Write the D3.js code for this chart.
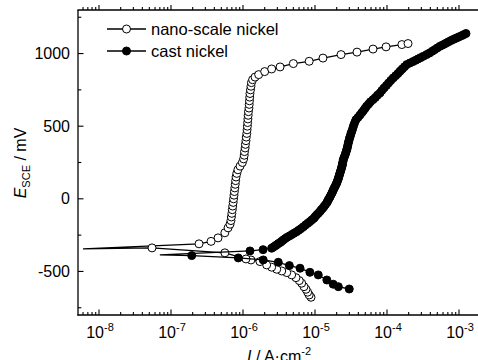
<!DOCTYPE html>
<html><head><meta charset="utf-8">
<script src="https://cdn.jsdelivr.net/npm/d3@7"></script>
<style>body{margin:0;background:#fff} text{font-family:Arial,"Liberation Sans",sans-serif;fill:#000}</style>
</head><body><svg id="c" width="478" height="360"></svg>
<script>
// ---------- data ----------
const xTickExps = [-8, -7, -6, -5, -4, -3];
const yTickValues = [-500, 0, 500, 1000];
const yMinorValues = [-750, -250, 250, 750, 1250];
const seriesNames = ["nano-scale nickel", "cast nickel"];

// nano-scale nickel: current density (A/cm2) and potential (mV vs SCE), in scan order
const nanoI = [8.8e-6, 8.3e-6, 7.9e-6, 7.5e-6, 7.03e-6, 6.53e-6, 6.05e-6, 5.44e-6, 4.74e-6, 4.05e-6, 3.45e-6, 2.94e-6, 2.5e-6, 2.13e-6, 1.72e-6, 1.29e-6, 1.1e-6, 5.6e-7, 5.45e-8,
  6.0e-9,
  2.45e-7, 3.6e-7, 4.5e-7, 5.6e-7, 6.2e-7, 6.6e-7, 6.8e-7, 6.9e-7, 7.0e-7, 7.1e-7, 7.2e-7, 7.3e-7, 7.4e-7, 7.5e-7, 7.6e-7, 7.7e-7, 7.8e-7, 7.9e-7, 8.0e-7, 8.2e-7, 8.5e-7, 9.1e-7, 9.8e-7,
  1.02e-6, 1.04e-6, 1.05e-6, 1.07e-6, 1.08e-6, 1.10e-6, 1.11e-6, 1.13e-6, 1.14e-6, 1.15e-6, 1.16e-6, 1.17e-6, 1.18e-6, 1.19e-6, 1.21e-6, 1.22e-6, 1.23e-6, 1.24e-6, 1.25e-6, 1.27e-6, 1.29e-6, 1.31e-6,
  1.36e-6, 1.47e-6, 1.65e-6, 2.0e-6, 2.5e-6, 3.27e-6, 5.0e-6, 8.3e-6, 1.29e-5, 2.3e-5, 3.83e-5, 6.4e-5, 9.7e-5, 1.61e-4, 1.96e-4];
const nanoE = [-678, -662, -643, -623, -605, -581, -563, -543, -524, -508, -497, -485, -471, -455, -432, -421, -414, -372, -338,
  -345,
  -310, -293, -269, -234, -200, -175, -150, -125, -100, -75, -50, -25, 0, 25, 50, 75, 100, 125, 150, 175, 200, 225, 250,
  275, 300, 325, 350, 375, 400, 425, 450, 475, 500, 525, 550, 575, 600, 625, 650, 675, 700, 725, 750, 775, 800,
  820, 838, 855, 876, 894, 908, 931, 947, 969, 993, 1010, 1031, 1046, 1062, 1069];
const nanoBare = [19, 80];   // points drawn by the line only (no symbol)

// cast nickel
const castI = [2.99e-5, 2.11e-5, 1.79e-5, 1.46e-5, 1.11e-5, 8.5e-6, 6.2e-6, 4.4e-6, 3.09e-6, 1.91e-6, 8.6e-7, 1.94e-7,
  7.0e-8,
  1.25e-6, 1.9e-6, 2.5e-6, 2.65e-6, 2.8e-6, 2.95e-6, 3.1e-6, 3.3e-6, 3.45e-6, 3.63e-6, 3.85e-6, 4.1e-6, 4.45e-6, 4.8e-6, 5.15e-6, 5.57e-6,
  5.95e-6, 6.4e-6, 6.9e-6, 7.4e-6, 7.95e-6, 8.5e-6, 9.0e-6, 9.6e-6, 1.0e-5, 1.05e-5, 1.11e-5, 1.17e-5, 1.22e-5, 1.28e-5, 1.34e-5, 1.4e-5,
  1.47e-5, 1.5e-5, 1.53e-5, 1.58e-5, 1.62e-5, 1.67e-5, 1.72e-5, 1.76e-5, 1.8e-5, 1.85e-5, 1.9e-5, 1.95e-5, 2.0e-5, 2.04e-5, 2.08e-5, 2.12e-5,
  2.15e-5, 2.19e-5, 2.22e-5, 2.26e-5, 2.3e-5, 2.33e-5, 2.37e-5, 2.4e-5, 2.42e-5, 2.45e-5, 2.47e-5, 2.53e-5, 2.6e-5, 2.66e-5, 2.72e-5, 2.77e-5,
  2.82e-5, 2.86e-5, 2.9e-5, 2.95e-5, 3.0e-5, 3.06e-5, 3.12e-5, 3.19e-5, 3.27e-5, 3.36e-5, 3.45e-5, 3.57e-5, 3.71e-5, 3.95e-5, 4.2e-5, 4.45e-5,
  4.7e-5, 4.95e-5, 5.2e-5, 5.55e-5, 5.9e-5, 6.4e-5, 6.9e-5, 7.4e-5, 8.0e-5, 8.5e-5, 9.1e-5, 9.8e-5, 1.05e-4, 1.13e-4, 1.22e-4, 1.32e-4,
  1.42e-4, 1.52e-4, 1.63e-4, 1.75e-4, 1.88e-4, 2.08e-4, 2.3e-4, 2.5e-4, 2.7e-4, 2.93e-4, 3.19e-4, 3.55e-4, 3.9e-4, 4.25e-4, 4.6e-4, 5.0e-4,
  5.44e-4, 5.85e-4, 6.3e-4, 6.75e-4, 7.2e-4, 7.75e-4, 8.3e-4, 8.9e-4, 9.5e-4, 1.02e-3, 1.1e-3, 1.17e-3, 1.25e-3];
const castE = [-621, -605, -588, -559, -524, -506, -478, -460, -437, -421, -407, -391,
  -386,
  -359, -350, -340, -332, -324, -316, -308, -300, -292, -283, -274, -265, -255, -245, -236, -226,
  -216, -205, -193, -180, -168, -157, -146, -135, -124, -112, -100, -88, -76, -65, -52, -40,
  -25, -15, -7, 4, 15, 28, 40, 51, 62, 74, 85, 97, 108, 120, 131, 143,
  154, 166, 177, 189, 200, 212, 223, 235, 246, 258, 269, 284, 298, 313, 327, 341,
  355, 370, 384, 398, 412, 426, 440, 455, 469, 488, 507, 526, 545, 560, 576, 592,
  607, 622, 637, 652, 668, 683, 698, 714, 729, 746, 763, 780, 797, 815, 832, 848,
  863, 879, 894, 909, 924, 935, 945, 954, 963, 972, 981, 993, 1004, 1016, 1027, 1039,
  1050, 1058, 1066, 1074, 1082, 1090, 1097, 1104, 1110, 1117, 1124, 1131, 1138];
const castBare = [12];

// ---------- layout ----------
const L = 78, R = 480, T = 10, B = 315;
const svg = d3.select("#c");

const x = d3.scaleLog().domain([Math.pow(10, -8 - 21 / 72), Math.pow(10, -3 + 21 / 72)]).range([L, R]);
const y = d3.scaleLinear().domain([-800, 1300]).range([B, T]);

// frame
const axisG = svg.append("g").attr("stroke", "#000").attr("stroke-width", 1.3).attr("fill", "none");
axisG.append("line").attr("x1", L).attr("x2", L).attr("y1", T).attr("y2", B + 0.6);
axisG.append("line").attr("x1", L - 0.6).attr("x2", R).attr("y1", B).attr("y2", B);
axisG.append("line").attr("x1", L - 0.6).attr("x2", R).attr("y1", T).attr("y2", T);

// x ticks (log, major + minor)
const [d0, d1] = x.domain();
const xMinor = [];
for (let e = -9; e <= -3; e++) for (let k = 2; k <= 9; k++) {
  const v = k * Math.pow(10, e);
  if (v >= d0 && v <= d1) xMinor.push(v);
}
const tickG = svg.append("g").attr("stroke", "#000").attr("stroke-width", 1.1);
xMinor.forEach(v => {
  tickG.append("line").attr("x1", x(v)).attr("x2", x(v)).attr("y1", B).attr("y2", B - 3);
  tickG.append("line").attr("x1", x(v)).attr("x2", x(v)).attr("y1", T).attr("y2", T - 3);
});
xTickExps.forEach(e => {
  const v = Math.pow(10, e);
  tickG.append("line").attr("x1", x(v)).attr("x2", x(v)).attr("y1", B).attr("y2", B - 5.5);
  tickG.append("line").attr("x1", x(v)).attr("x2", x(v)).attr("y1", T).attr("y2", T - 5);
  const t = svg.append("text").attr("x", x(v) + 1).attr("y", 338).attr("text-anchor", "middle").attr("font-size", 16);
  t.append("tspan").text("10");
  t.append("tspan").attr("dy", -7.5).attr("font-size", 11).text(String(e));
});

// y ticks
yMinorValues.forEach(v => {
  tickG.append("line").attr("x1", L).attr("x2", L + 3.3).attr("y1", y(v)).attr("y2", y(v));
});
yTickValues.forEach(v => {
  tickG.append("line").attr("x1", L).attr("x2", L + 5.5).attr("y1", y(v)).attr("y2", y(v));
  svg.append("text").attr("x", 70).attr("y", y(v) + 5.5).attr("text-anchor", "end").attr("font-size", 16).text(String(v));
});

// axis titles
const xt = svg.append("text").attr("x", 279).attr("y", 361.5).attr("text-anchor", "middle").attr("font-size", 16);
xt.append("tspan").attr("font-style", "italic").text("I");
xt.append("tspan").text(" / A\u00B7cm");
xt.append("tspan").attr("dy", -7).attr("font-size", 11).text("-2");

const yt = svg.append("text").attr("transform", "translate(25.5,163) rotate(-90)").attr("text-anchor", "middle").attr("font-size", 16);
yt.append("tspan").attr("font-style", "italic").text("E");
yt.append("tspan").attr("dy", 4).attr("font-size", 11).text("SCE");
yt.append("tspan").attr("dy", -4).text(" / mV");

// ---------- series ----------
const line = d3.line().x(d => x(d[0])).y(d => y(d[1]));
const series = [
  { I: nanoI, E: nanoE, bare: nanoBare, fill: "#fff" },
  { I: castI, E: castE, bare: castBare, fill: "#000" }
];
const R0 = 4;
const plot = svg.append("g");
series.forEach(s => {
  const pts = s.I.map((v, i) => [v, s.E[i]]);
  plot.append("path").attr("d", line(pts)).attr("fill", "none").attr("stroke", "#000").attr("stroke-width", 1.3);
  plot.append("g").selectAll("circle")
    .data(pts.filter((p, i) => !s.bare.includes(i)))
    .join("circle")
    .attr("cx", d => x(d[0])).attr("cy", d => y(d[1])).attr("r", R0)
    .attr("fill", s.fill).attr("stroke", "#000").attr("stroke-width", 1);
});

// ---------- legend ----------
const legY = [29, 51];
series.forEach((s, i) => {
  const g = svg.append("g");
  g.append("line").attr("x1", 107).attr("x2", 146).attr("y1", legY[i]).attr("y2", legY[i]).attr("stroke", "#000").attr("stroke-width", 1.3);
  g.append("circle").attr("cx", 126.5).attr("cy", legY[i]).attr("r", R0).attr("fill", s.fill).attr("stroke", "#000").attr("stroke-width", 1);
  g.append("text").attr("x", 151).attr("y", legY[i] + 6).attr("font-size", 16.5).text(seriesNames[i]);
});
</script></body></html>
